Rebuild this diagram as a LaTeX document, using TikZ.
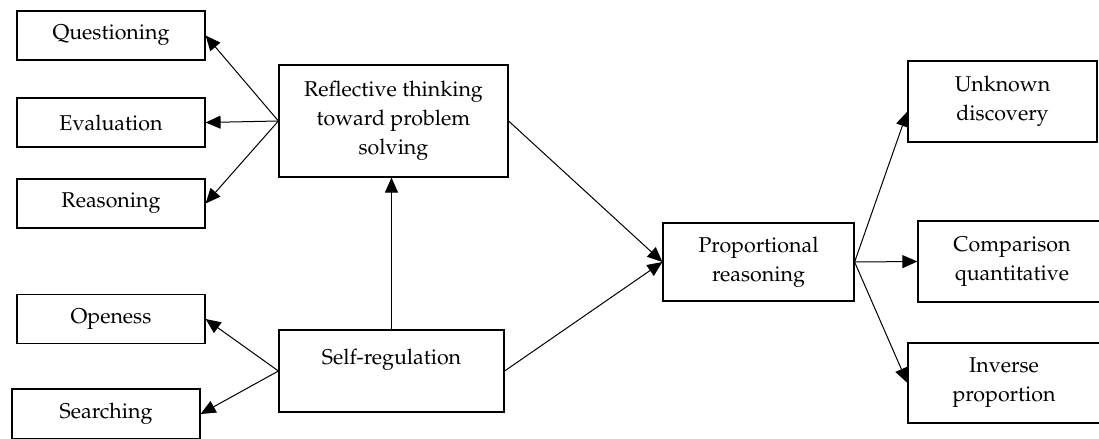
\documentclass[tikz,border=0pt]{standalone}
\usepackage[T1]{fontenc}
\usepackage{mathpazo}
\usetikzlibrary{arrows.meta}
\tikzset{
    box/.style={draw, line width=0.6pt, align=center, inner sep=0pt,
        font=\fontsize{10.7}{14.5}\selectfont},
    arr/.style={-{Triangle[length=7.5pt,width=6.5pt]}, line width=0.5pt}
}
\begin{document}
\begin{tikzpicture}[x=0.5pt,y=-0.5pt]
        \path[use as bounding box, clip] (0,0) rectangle (1099,439);
        % left boxes
            \foreach \y/\n/\t in {35.5/ques/Questioning,122.5/eval/Evaluation,203.5/reas/Reasoning,319/open/Openess}{
                \node[box, minimum width=94pt, minimum height=24.5pt] (\n) at (111,\y) {\t};
            }
            \node[box, minimum width=94pt, minimum height=25pt] (srch) at (106,414) {Searching};
        % middle boxes
            \node[box, minimum width=114.5pt, minimum height=56pt] (refl) at (393.5,121) {Reflective thinking\\toward problem\\solving};
            \node[box, minimum width=112.5pt, minimum height=41pt] (self) at (391.5,371) {Self-regulation\\\mbox{}};
            \node[box, minimum width=95.5pt, minimum height=39pt] (prop) at (758.5,262) {Proportional\\reasoning};
        % right boxes
            \node[box, minimum width=94.5pt, minimum height=40.5pt] (unkn) at (1002.5,101.5) {Unknown\\discovery};
            \node[box, minimum width=94pt, minimum height=40.5pt] (comp) at (1012,261.5) {Comparison\\quantitative};
            \node[box, minimum width=96pt, minimum height=40pt] (invr) at (1004,383) {Inverse\\proportion};
        % arrows
            \foreach \n in {ques,eval,reas}{
                \draw[arr] (refl.west) -- (\n.east);
            }
            \foreach \n in {open,srch}{
                \draw[arr] (self.west) -- (\n.east);
            }
            \draw[arr] (self.north) -- (self.north |- refl.south);
            \draw[arr] (refl.east) -- (prop.west);
            \draw[arr] (self.east) -- (prop.west);
            \draw[arr] (prop.east) -- ([yshift=-5pt]unkn.west);
            \draw[arr] (prop.east) -- (comp.west);
            \draw[arr] (prop.east) -- (invr.west);
\end{tikzpicture}
\end{document}
